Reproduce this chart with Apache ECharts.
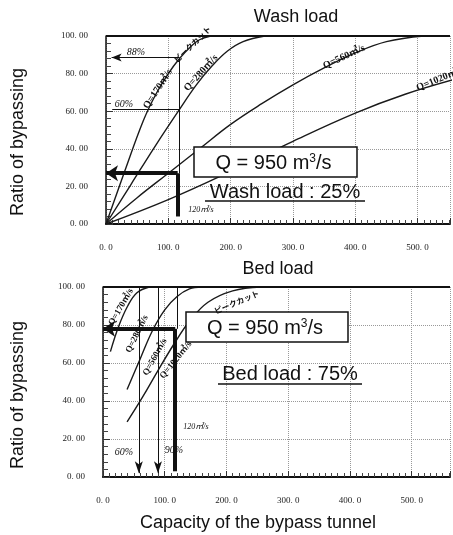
<!DOCTYPE html>
<html>
<head>
<meta charset="utf-8">
<script src="https://cdn.jsdelivr.net/npm/echarts@6.0.0/dist/echarts.min.js"></script>
<style>
  html, body { margin: 0; background: #fff; }
  #chart { width: 453px; height: 535px; }
</style>
</head>
<body>
<div id="chart"></div>
<script>
// [tunnel capacity (m3/s), ratio of bypassing (%)]
const washQ170 = [[0, 0], [30, 28], [60, 55], [80, 69], [100, 80], [118, 88], [135, 94], [150, 98], [168, 100]];
const washQ280 = [[0, 0], [40, 21], [80, 42], [118, 61], [145, 74], [170, 84], [195, 92], [220, 97], [255, 100]];
const washQ560 = [[0, 0], [50, 14], [100, 27], [150, 40], [200, 53], [250, 64], [300, 74], [350, 83], [400, 91], [450, 97], [510, 100]];
const washQ1020 = [[0, 0], [100, 13], [200, 28], [300, 44], [400, 59], [480, 69], [560, 77]];

const bedQ170 = [[12, 66], [25, 79], [40, 90], [55, 97], [75, 100]];
const bedQ280 = [[39, 46], [60, 62], [80, 77], [100, 88], [120, 95], [140, 99], [160, 100]];
const bedQ560 = [[39, 29], [64, 42], [89, 56], [115, 70], [140, 82], [170, 92], [210, 98], [256, 100]];

// guide lines drawn on the original
const washPeak88 = [[118, 88.5], [9, 88.5]];
const washLevel60 = [[118, 61], [10, 61]];
const washCap120 = [[118, 88.5], [118, 27]];
const washReadV = [[115, 4], [115, 27]];
const washReadH = [[115, 27], [0, 27]];

const bed60 = [[58, 100], [58, 2]];
const bed90 = [[89, 100], [89, 2]];
const bedCap120 = [[120, 100], [120, 78]];
const bedReadV = [[117, 3], [117, 78]];
const bedReadH = [[117, 78], [0, 78]];

const chart = echarts.init(document.getElementById('chart'));

const labelFont = "'Liberation Serif', 'Noto Sans CJK JP', serif";

function capAxis(gridIndex, max) {
  return {
    type: 'value', gridIndex, min: 0, max, interval: 100,
    axisLine: { show: true, lineStyle: { color: '#111', width: 2 } },
    axisTick: { show: true, inside: true, length: 6, lineStyle: { color: '#333' } },
    minorTick: { show: true, splitNumber: 10, length: 4, lineStyle: { color: '#444' } },
    splitLine: { show: true, lineStyle: { color: '#999', type: 'dotted' } },
    axisLabel: {
      margin: 19, fontSize: 9, color: '#222', fontFamily: labelFont,
      formatter: v => (v % 100 === 0 ? v.toFixed(1).replace('.', '. ') : '')
    }
  };
}

function ratioAxis(gridIndex) {
  return {
    type: 'value', gridIndex, min: 0, max: 100, interval: 20,
    axisLine: { show: true, lineStyle: { color: '#111', width: 1.5 } },
    axisTick: { show: true, inside: true, length: 7, lineStyle: { color: '#333' } },
    minorTick: { show: true, splitNumber: 5, length: 5, lineStyle: { color: '#444' } },
    splitLine: { show: true, lineStyle: { color: '#999', type: 'dotted' } },
    axisLabel: {
      margin: 18, fontSize: 9, color: '#222', fontFamily: labelFont,
      formatter: v => v.toFixed(2).replace('.', '. ')
    }
  };
}

function seg(pts, width, arrow) {
  return [
    { coord: pts[0], symbol: 'none', lineStyle: { width, color: '#111', type: 'solid' } },
    { coord: pts[1], symbol: arrow ? 'arrow' : 'none', symbolSize: arrow || 1 }
  ];
}

function curve(data, idx, marks) {
  const s = {
    type: 'line', xAxisIndex: idx, yAxisIndex: idx, data,
    smooth: 0.4, symbol: 'none', showSymbol: false,
    lineStyle: { color: '#1a1a1a', width: 1.4 }, silent: true
  };
  if (marks) {
    s.markLine = {
      silent: true, animation: false, label: { show: false },
      itemStyle: { color: '#111' },
      data: marks
    };
  }
  return s;
}

function txt(x, y, text, size, opts) {
  opts = opts || {};
  return {
    type: 'text', x, y, rotation: (opts.rot || 0) * Math.PI / 180, z: 100,
    style: {
      text, fill: '#111', fontSize: size,
      fontFamily: opts.font || 'Arial, Liberation Sans, sans-serif',
      fontStyle: opts.italic ? 'italic' : 'normal',
      fontWeight: opts.bold ? 'bold' : 'normal',
      textAlign: 'center', textVerticalAlign: 'middle',
      rich: opts.rich
    }
  };
}

function qBox(x, y, w, h) {
  return [
    { type: 'rect', z: 99, shape: { x, y, width: w, height: h },
      style: { fill: '#fff', stroke: '#111', lineWidth: 1.5 } },
    txt(x + w / 2 - 2, y + h / 2 + 1, '{a|Q = 950 m}{s|3}{a|/s}', 20, {
      rich: {
        a: { fontSize: 20, fontFamily: 'Arial, Liberation Sans, sans-serif', fill: '#111' },
        s: { fontSize: 12, fontFamily: 'Arial, Liberation Sans, sans-serif', fill: '#111', verticalAlign: 'top' }
      }
    })
  ];
}

function underline(x1, x2, y) {
  return { type: 'line', z: 100, shape: { x1, y1: y, x2, y2: y }, style: { stroke: '#111', lineWidth: 1.5 } };
}

function curveLabel(x, y, text, size, rot) {
  return txt(x, y, text, size, { rot, font: labelFont, bold: true });
}

const option = {
  backgroundColor: '#fff',
  animation: false,
  grid: [
    { left: 106, top: 36, width: 360, height: 188 },
    { left: 103, top: 287, width: 360, height: 190 }
  ],
  xAxis: [capAxis(0, 552), capAxis(1, 562)],
  yAxis: [ratioAxis(0), ratioAxis(1)],
  series: [
    curve(washQ170, 0, [
      seg([[0, 100], [552, 100]], 2),
      seg(washPeak88, 1, [6, 10]),
      seg(washLevel60, 1),
      seg(washCap120, 1),
      seg(washReadV, 4),
      seg(washReadH, 4, [12, 12])
    ]),
    curve(washQ280, 0),
    curve(washQ560, 0),
    curve(washQ1020, 0),
    curve(bedQ170, 1, [
      seg([[0, 100], [562, 100]], 2),
      seg(bed60, 1, [6, 12]),
      seg(bed90, 1, [6, 12]),
      seg(bedCap120, 1),
      seg(bedReadV, 4),
      seg(bedReadH, 4, [12, 12])
    ]),
    curve(bedQ280, 1),
    curve(bedQ560, 1)
  ],
  graphic: [
    txt(296, 17, 'Wash load', 18),
    txt(278, 269, 'Bed load', 18),
    txt(18, 142, 'Ratio of bypassing', 18, { rot: 90 }),
    txt(18, 395, 'Ratio of bypassing', 18, { rot: 90 }),
    txt(258, 523, 'Capacity of the bypass tunnel', 18),

    // wash load panel notes
    txt(136, 52, '88%', 10, { italic: true, font: labelFont }),
    txt(124, 104, '60%', 10, { italic: true, font: labelFont }),
    txt(201, 210, '120㎥/s', 8, { italic: true, font: labelFont }),
    curveLabel(158, 89, 'Q=170㎥/s', 10, 57),
    curveLabel(193, 45, 'ピークカット', 8, 44),
    curveLabel(201, 73, 'Q=280㎥/s', 10, 48),
    curveLabel(344, 57, 'Q=560㎥/s', 10, 25),
    curveLabel(440, 79, 'Q=1020㎥/s', 10, 22),
    ...qBox(194, 147, 163, 30),
    txt(285, 192, 'Wash load : 25%', 20),
    underline(205, 365, 201),

    // bed load panel notes
    txt(124, 452, '60%', 10, { italic: true, font: labelFont }),
    txt(174, 450, '90%', 10, { italic: true, font: labelFont }),
    txt(196, 427, '120㎥/s', 8, { italic: true, font: labelFont }),
    curveLabel(121, 307, 'Q=170㎥/s', 9, 60),
    curveLabel(137, 334, 'Q=280㎥/s', 9, 64),
    curveLabel(155, 357, 'Q=560㎥/s', 9, 61),
    curveLabel(176, 360, 'Q=1020㎥/s', 9, 51),
    curveLabel(237, 303, 'ピークカット', 8, 23),
    ...qBox(186, 312, 162, 30),
    txt(290, 374, 'Bed load : 75%', 20),
    underline(218, 362, 384)
  ]
};

chart.setOption(option);
window.addEventListener('resize', () => chart.resize());
</script>
</body>
</html>
